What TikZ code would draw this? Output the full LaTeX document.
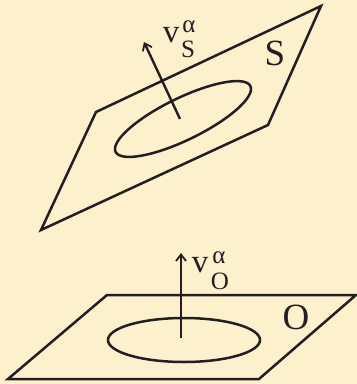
\documentclass[tikz,border=0pt]{standalone}
\usepackage{fontspec}
\setmainfont{Liberation Serif}
\usetikzlibrary{arrows.meta}
\definecolor{bg}{RGB}{253,240,205}
\definecolor{ink}{RGB}{35,31,32}
\tikzset{
  edge/.style={draw=ink,line width=2.5pt,line join=miter},
  vec/.style={draw=ink,line width=2.4pt,-{Straight Barb[length=6.5pt,width=10pt,line width=1.8pt]}},
  big/.style={inner sep=0pt,text=ink,font=\fontsize{37}{37}\selectfont},
  mid/.style={inner sep=0pt,text=ink,font=\fontsize{33}{33}\selectfont},
  small/.style={inner sep=0pt,text=ink,font=\fontsize{25}{25}\selectfont}
}
\begin{document}
\begin{tikzpicture}[x=1pt,y=1pt]
\fill[bg] (0,0) rectangle (357,-384);
\useasboundingbox (0,0) rectangle (357,-384);
% upper plane S
\coordinate (s1) at (96,-112);
\coordinate (s2) at (321,-6);
\coordinate (s3) at (268,-125);
\coordinate (s4) at (41,-230);
\draw[edge] (s1) -- (s2) -- (s3) -- (s4) -- cycle;
\coordinate (sc) at (183,-119);
\draw[edge] (sc) ellipse[x radius=75,y radius=21,rotate=26];
\coordinate (sfoot) at (180,-119);
\coordinate (stip) at (144,-42);
\draw[vec] (sfoot) -- (stip);
\node[mid] (vs) at (171,-35) {v};
\node[small] (vsa) at (189,-27) {α};
\node[small] (vss) at (188,-49) {S};
\node[big] (S) at (275,-53) {S};
% lower plane O
\coordinate (o1) at (107,-295);
\coordinate (o2) at (356,-295);
\coordinate (o3) at (259,-379);
\coordinate (o4) at (8,-379);
\draw[edge] (o1) -- (o2) -- (o3) -- (o4) -- cycle;
\coordinate (oc) at (184,-340);
\draw[edge] (oc) ellipse[x radius=76,y radius=22];
\coordinate (ofoot) at (181,-338);
\coordinate (otip) at (181,-253);
\draw[vec] (ofoot) -- (otip);
\node[mid] (vo) at (200,-265) {v};
\node[small] (voa) at (219,-258) {α};
\node[small] (vos) at (220,-281) {O};
\node[big] (O) at (296,-317) {O};
\end{tikzpicture}
\end{document}
